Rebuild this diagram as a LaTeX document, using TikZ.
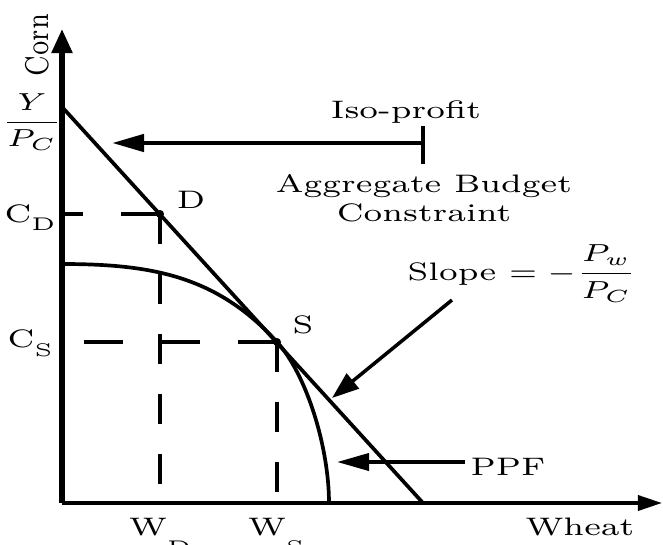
\documentclass[tikz,border=0pt]{standalone}
\usepackage{amsmath}
\usepackage{graphicx}
\usetikzlibrary{arrows.meta}
\newcommand*{\widen}[1]{\scalebox{1.3}[1]{#1}}

\begin{document}
\begin{tikzpicture}[x=0.01cm, y=-0.01cm, font=\fontsize{7.2}{8.2}\selectfont,
  lbl/.style={inner sep=0pt},
  curve/.style={line width=1.05pt},
  hguide/.style={line width=1.3pt, dash pattern=on 0.39cm off 0.38cm},
  vguide/.style={line width=1.15pt, dash pattern=on 0.30cm off 0.30cm},
  pointer/.style={line width=1.3pt, -{Triangle[length=0.32cm, width=0.17cm]}},
  dot/.style={circle, fill, inner sep=0pt, minimum size=0.08cm}]
  \useasboundingbox (0,0) rectangle (663,545);
  \coordinate (O) at (62,503);
  \coordinate (ytop) at (62,29);
  \coordinate (xend) at (662,503);
  \draw[line width=1.5pt, -{Triangle[length=0.24cm, width=0.2cm]}] (O) -- (ytop);
  \draw[line width=1pt, -{Triangle[length=0.24cm, width=0.15cm]}] (O) -- (xend);
  \coordinate (bhi) at (63,108);
  \coordinate (blo) at (423,503);
  \draw[curve] (bhi) -- (blo);
  \node[dot] (D) at (160,214) {};
  \node[dot] (S) at (277,342) {};
  \coordinate (phi) at (62,264);
  \coordinate (plo) at (329,503);
  \draw[curve] (phi) .. controls (152,264) and (217,276) .. (S.center)
    .. controls (307,375) and (329,448) .. (plo);
  \draw[hguide] (D.center) -- (D.center -| O);
  \draw[vguide] (D.center) -- (D.center |- O);
  \draw[hguide] (S.center) -- (S.center -| O);
  \draw[vguide] (S.center) -- (S.center |- O);
  \node[lbl, rotate=90] (corn) at (37,45) {\scalebox{1}[1.3]{Corn}};
  \node[lbl] (yint) at (32,122) {\widen{$\dfrac{Y}{P_C}$}};
  \node[lbl, anchor=base] (cd) at (30,222) {\widen{C\raisebox{-2.4pt}{\fontsize{5.2}{5.2}\selectfont D}}};
  \node[lbl, anchor=base] (cs) at (30,347) {\widen{C\raisebox{-2.8pt}{\fontsize{5.2}{5.2}\selectfont S}}};
  \node[lbl, anchor=base] (wd) at (160,535) {\widen{W\raisebox{-5.2pt}{\fontsize{5.2}{5.2}\selectfont D}}};
  \node[lbl, anchor=base] (ws) at (276,535) {\widen{W\raisebox{-5.2pt}{\fontsize{5.2}{5.2}\selectfont S}}};
  \node[lbl, anchor=base] (wheat) at (580,535) {\widen{Wheat}};
  \node[lbl] (dl) at (191,200) {\widen{D}};
  \node[lbl] (sl) at (303,325) {\widen{S}};
  \node[lbl] (iso) at (406,112) {\widen{Iso-profit}};
  \node[lbl, align=center] (abc) at (424,198) {\widen{Aggregate Budget}\\\widen{Constraint}};
  \node[lbl, anchor=base west] (slope) at (407,280) {\widen{Slope $= -\dfrac{P_w}{P_C}$}};
  \node[lbl] (ppf) at (508,467) {\widen{PPF}};
  \coordinate (isoa) at (423,143);
  \coordinate (isob) at (112,143);
  \draw[pointer] (isoa) -- (isob);
  \draw[line width=1pt] (isoa) ++(0,-17) -- ++(0,38);
  \coordinate (sa) at (452,300);
  \coordinate (sb) at (332,398);
  \draw[pointer, line width=1pt, -{Triangle[length=0.27cm, width=0.19cm]}] (sa) -- (sb);
  \coordinate (pa) at (465,462);
  \coordinate (pb) at (337,462);
  \draw[pointer, line width=1.1pt] (pa) -- (pb);
\end{tikzpicture}
\end{document}
